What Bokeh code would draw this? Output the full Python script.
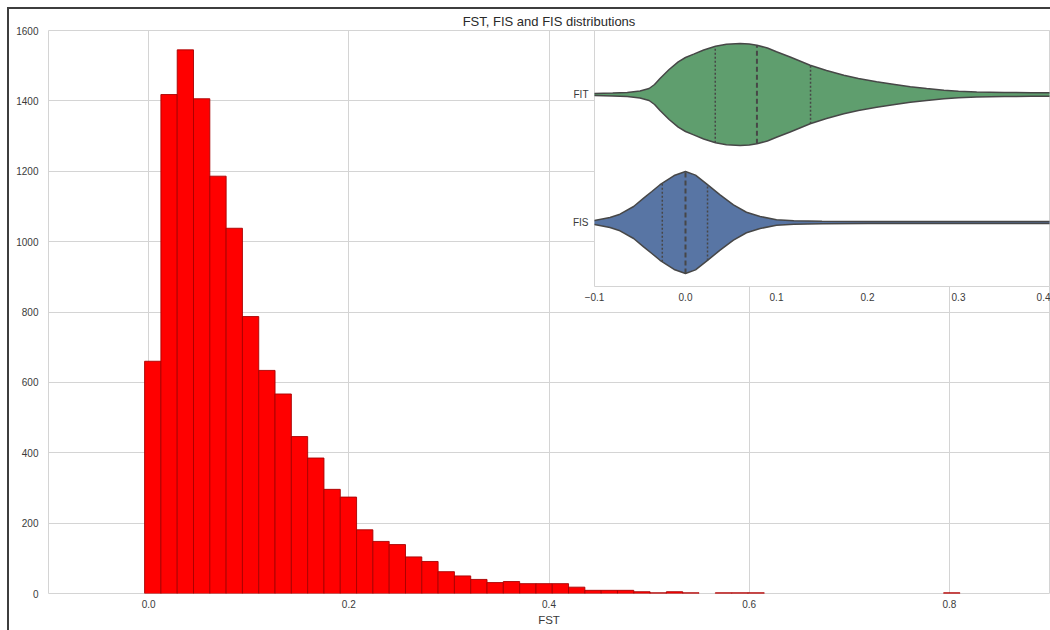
import numpy as np
from bokeh.plotting import figure
from bokeh.models import Range1d, FixedTicker, CustomJSTickFormatter
from bokeh.embed import file_html
from bokeh.resources import INLINE

# ---- FST histogram (50 equal-width bins between the sample min and max) ----
fst_bin_min = -0.0040
fst_bin_max = 0.8105
fst_counts = [660, 1418, 1545, 1406, 1186, 1038, 787, 634, 567, 446,
              385, 296, 274, 181, 148, 139, 104, 91, 62, 50,
              40, 31, 34, 28, 28, 28, 18, 9, 9, 9,
              5, 2, 5, 2, 0, 2, 2, 2, 0, 0,
              0, 0, 0, 0, 0, 0, 0, 0, 0, 2]
fst_ticks = [0.0, 0.2, 0.4, 0.6, 0.8]
count_ticks = [0, 200, 400, 600, 800, 1000, 1200, 1400, 1600]

# ---- violin profiles: value grid and half-width (in category units) ----
fit_x = [-0.13, -0.1, -0.08, -0.064, -0.05, -0.04, -0.034, -0.028, -0.018, -0.008,
         0.0, 0.009, 0.02, 0.033, 0.045, 0.06, 0.07, 0.0785, 0.09, 0.1,
         0.115, 0.137, 0.155, 0.174, 0.19, 0.21, 0.23, 0.247, 0.265, 0.284,
         0.30, 0.32, 0.35, 0.38, 0.41, 0.45]
fit_halfwidth = [0.002, 0.008, 0.012, 0.016, 0.027, 0.047, 0.078, 0.125, 0.195, 0.255,
                 0.289, 0.315, 0.348, 0.377, 0.393, 0.398, 0.395, 0.385, 0.363, 0.334,
                 0.293, 0.229, 0.188, 0.151, 0.125, 0.099, 0.078, 0.060, 0.047, 0.034,
                 0.026, 0.020, 0.016, 0.014, 0.0125, 0.009]
fis_x = [-0.13, -0.1, -0.083, -0.072, -0.057, -0.046, -0.037, -0.028, -0.0125, 0.0,
         0.011, 0.0235, 0.038, 0.0527, 0.067, 0.082, 0.1, 0.119, 0.15, 0.2, 0.45]
fis_halfwidth = [0.004, 0.016, 0.039, 0.065, 0.125, 0.19, 0.242, 0.295, 0.367, 0.398,
                 0.37, 0.30, 0.216, 0.138, 0.080, 0.047, 0.021, 0.013, 0.010, 0.008, 0.008]
fit_quartiles = [0.0327, 0.0785, 0.1374]
fis_quartiles = [-0.0255, 0.0, 0.0242]
violin_labels = {0: "FIS", 1: "FIT"}
inset_ticks = [-0.1, 0.0, 0.1, 0.2, 0.3, 0.4]

FONT = "Liberation Sans"
TEXT = "#3a3a3a"
GRID = "#d4d4d4"
EDGE = "#474747"

# ---------------- main histogram ----------------
p = figure(width=1050, height=630, x_range=Range1d(-0.1, 0.9), y_range=Range1d(0, 1600),
           output_backend="svg", toolbar_location=None,
           min_border_left=48, min_border_right=1, min_border_top=30, min_border_bottom=37)
p.name = "main_panel"
p.title.text = "FST, FIS and FIS distributions"
p.title.align = "center"
p.title.text_font = FONT
p.title.text_font_size = "13px"
p.title.text_font_style = "normal"
p.title.text_color = "#2a2a2a"
p.title.standoff = 3

edges = np.linspace(fst_bin_min, fst_bin_max, len(fst_counts) + 1)
counts = np.array(fst_counts)
keep = counts > 0
p.quad(left=edges[:-1][keep], right=edges[1:][keep], bottom=0, top=counts[keep],
       fill_color="#ff0000", line_color="#a80000", line_width=0.9)

p.xaxis.ticker = FixedTicker(ticks=fst_ticks)
p.xaxis.formatter = CustomJSTickFormatter(code="return tick.toFixed(1);")
p.yaxis.ticker = FixedTicker(ticks=count_ticks)
p.xgrid.ticker = FixedTicker(ticks=fst_ticks)
p.ygrid.ticker = FixedTicker(ticks=count_ticks)
p.xaxis.axis_label = "FST"
for ax in (p.xaxis[0], p.yaxis[0]):
    ax.axis_line_color = None
    ax.major_tick_line_color = None
    ax.minor_tick_line_color = None
    ax.major_tick_out = 0
    ax.major_tick_in = 0
    ax.minor_tick_out = 0
    ax.minor_tick_in = 0
    ax.major_label_text_font = FONT
    ax.major_label_text_font_size = "10px"
    ax.major_label_text_color = TEXT
    ax.axis_label_text_font = FONT
    ax.axis_label_text_font_size = "11.5px"
    ax.axis_label_text_font_style = "normal"
    ax.axis_label_text_color = TEXT
p.xaxis.major_label_standoff = 6
p.xaxis.axis_label_standoff = 3
p.yaxis.major_label_standoff = 10
p.grid.grid_line_color = GRID
p.grid.grid_line_width = 1
p.outline_line_color = GRID
p.outline_line_width = 1
p.background_fill_color = "white"
p.border_fill_color = "white"

# ---------------- inset violins ----------------
q = figure(width=501, height=277, x_range=Range1d(-0.1, 0.4), y_range=Range1d(-0.5, 1.5),
           output_backend="svg", toolbar_location=None,
           min_border_left=45, min_border_right=1, min_border_top=1, min_border_bottom=20)
q.name = "inset_panel"
q.border_fill_alpha = 0
q.background_fill_color = "white"
q.outline_line_color = GRID
q.outline_line_width = 1
q.grid.visible = False


def draw_violin(fig, xs, hw, center, color, quartiles):
    xs = np.asarray(xs, dtype=float)
    hw = np.asarray(hw, dtype=float)
    px = np.concatenate([xs, xs[::-1]])
    py = np.concatenate([center + hw, (center - hw)[::-1]])
    fig.patch(px, py, fill_color=color, line_color=EDGE, line_width=1.5)
    for i, qv in enumerate(quartiles):
        h = float(np.interp(qv, xs, hw))
        if i == 1:
            # median: dashed
            fig.segment(x0=[qv], y0=[center - h], x1=[qv], y1=[center + h],
                        line_color=EDGE, line_width=2, line_dash="5 3")
        else:
            # lower / upper quartile: dotted
            fig.segment(x0=[qv], y0=[center - h], x1=[qv], y1=[center + h],
                        line_color=EDGE, line_width=1.5, line_dash="2 2")


draw_violin(q, fit_x, fit_halfwidth, 1, "#5f9e6e", fit_quartiles)
draw_violin(q, fis_x, fis_halfwidth, 0, "#5875a4", fis_quartiles)

q.xaxis.ticker = FixedTicker(ticks=inset_ticks)
q.xaxis.formatter = CustomJSTickFormatter(code="return tick.toFixed(1).replace('-', '\u2212');")
q.yaxis.ticker = FixedTicker(ticks=list(violin_labels.keys()))
q.yaxis.major_label_overrides = violin_labels
for ax in (q.xaxis[0], q.yaxis[0]):
    ax.axis_line_color = None
    ax.major_tick_line_color = None
    ax.minor_tick_line_color = None
    ax.major_tick_out = 0
    ax.major_tick_in = 0
    ax.major_label_text_font = FONT
    ax.major_label_text_font_size = "10px"
    ax.major_label_text_color = TEXT
q.xaxis.major_label_standoff = 6
q.yaxis.major_label_standoff = 6

page_template = """
{% from macros import embed %}
{% block postamble %}
<style>
  html, body { overflow: hidden; background: white; }
  .fig-main { position: absolute; left: 0px; top: 0px; }
  .fig-inset { position: absolute; left: 549px; top: 29px; }
  .frame-edge { position: absolute; left: 7px; top: 7px; width: 1043px; height: 623px;
                box-sizing: border-box; border-left: 2px solid #3e3e3e;
                border-top: 2px solid #3e3e3e; pointer-events: none; }
</style>
{% endblock %}
{% block contents %}
<div class="fig-main">{{ embed(roots.main_panel) }}</div>
<div class="fig-inset">{{ embed(roots.inset_panel) }}</div>
<div class="frame-edge"></div>
{% endblock %}
"""

open("out.html", "w").write(file_html([p, q], INLINE, template=page_template))
